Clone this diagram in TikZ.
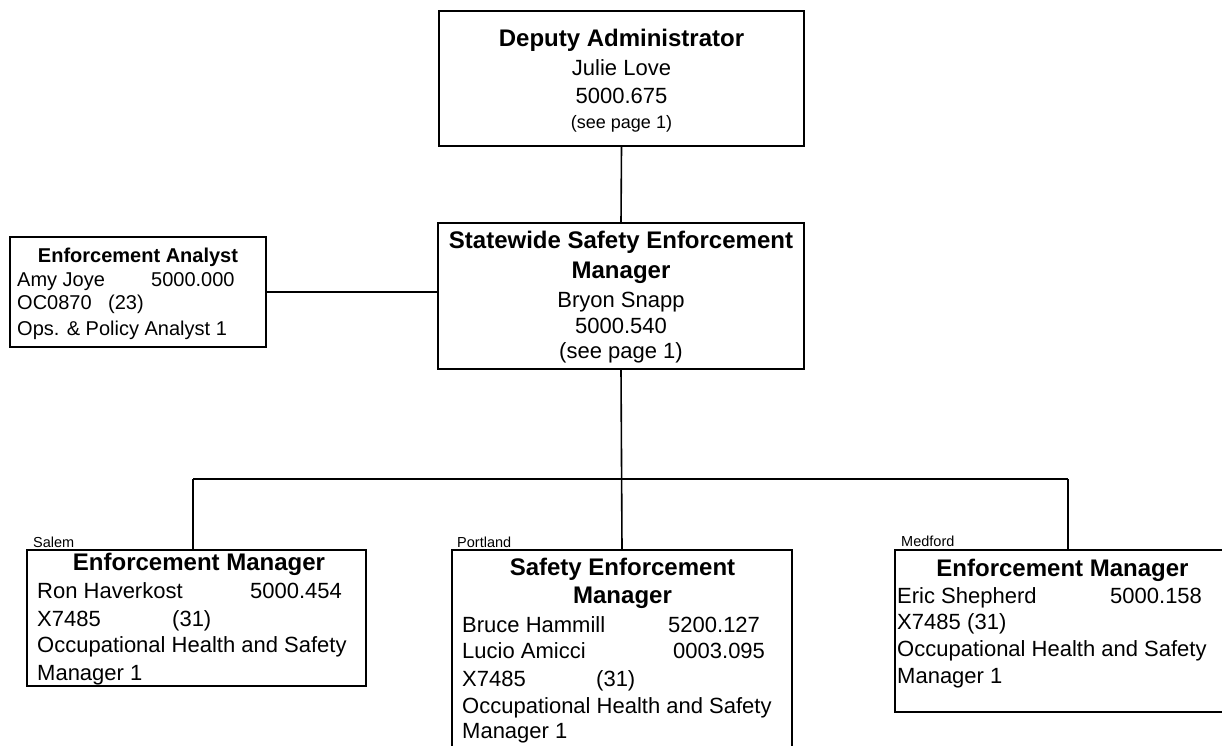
\documentclass[tikz,border=0pt]{standalone}
\usepackage{fontspec}
\setmainfont{Liberation Sans}
\begin{document}
\begin{tikzpicture}[x=1pt,y=-1pt,
  box/.style={draw=black,line width=1.6pt,rectangle,inner sep=0pt,fill=white},
  link/.style={draw=black,line width=1.6pt},
  head/.style={inner sep=0pt,anchor=base,font=\bfseries\fontsize{24}{28}\selectfont},
  headsm/.style={inner sep=0pt,anchor=base,font=\bfseries\fontsize{20}{24}\selectfont},
  ctr/.style={inner sep=0pt,anchor=base,font=\fontsize{22}{26}\selectfont},
  row/.style={inner sep=0pt,anchor=base west,font=\fontsize{22}{26}\selectfont},
  rowsm/.style={inner sep=0pt,anchor=base west,font=\fontsize{20}{24}\selectfont},
  place/.style={inner sep=0pt,anchor=base west,font=\fontsize{14.5}{17}\selectfont}]
\useasboundingbox (0,0) rectangle (1222,745);
\clip (0,0) rectangle (1222,745);
\fill[white] (0,0) rectangle (1222,745);

% boxes
\node[box,minimum width=365pt,minimum height=135pt] (dep) at (621.5,78.5) {};
\node[box,minimum width=366pt,minimum height=146pt] (mgr) at (621,296) {};
\node[box,minimum width=256pt,minimum height=110pt] (ana) at (138,292) {};
\node[box,minimum width=339pt,minimum height=136pt] (sal) at (196.5,618) {};
\node[box,minimum width=340pt,minimum height=230pt] (por) at (622,665) {};
\node[box,minimum width=345pt,minimum height=162pt] (med) at (1067.5,631) {};

% connectors
\coordinate (busL) at (193,479);
\coordinate (busR) at (1068,479);
\draw[link] (dep.south) -- (mgr.north);
\draw[link] (ana.east) -- (ana.east -| mgr.west);
\draw[link] (mgr.south) -- (por.north);
\draw[link] (busL) -- (busR);
\draw[link] (busL) -- (busL |- sal.north);
\draw[link] (busR) -- (busR |- med.north);

% Deputy Administrator
\node[head] (d1) at (621.5,46) {Deputy Administrator};
\node[ctr] (d2) at (621.5,75) {Julie Love};
\node[ctr] (d3) at (621.5,103) {5000.675};
\node[ctr,font=\fontsize{18}{22}\selectfont] (d4) at (621.5,128) {(see page 1)};

% Statewide manager
\node[head] (m1) at (621,248) {Statewide Safety Enforcement};
\node[head] (m2) at (621,278) {Manager};
\node[ctr] (m3) at (621,307) {Bryon Snapp};
\node[ctr] (m4) at (621,333) {5000.540};
\node[ctr] (m5) at (621,358) {(see page 1)};

% Enforcement Analyst
\node[headsm] (a1) at (138,262) {Enforcement Analyst};
\node[rowsm] (a2) at (17,286) {Amy Joye};
\node[rowsm] (a2n) at (151,286) {5000.000};
\node[rowsm] (a3) at (17,309) {OC0870};
\node[rowsm] (a3n) at (108,309) {(23)};
\node[rowsm] (a4) at (17,335) {Ops. \& Policy Analyst 1};

% Salem
\node[place] (sl) at (33,547) {Salem};
\node[head] (s1) at (199,570) {Enforcement Manager};
\node[row] (s2) at (37,598) {Ron Haverkost};
\node[row] (s2n) at (250,598) {5000.454};
\node[row] (s3) at (37,626) {X7485};
\node[row] (s3n) at (172,626) {(31)};
\node[row] (s4) at (37,652) {Occupational Health and Safety};
\node[row] (s5) at (37,680) {Manager 1};

% Portland
\node[place] (pl) at (457,547) {Portland};
\node[head] (p1) at (622.5,575) {Safety Enforcement};
\node[head] (p2) at (622.5,603) {Manager};
\node[row] (p3) at (462,632) {Bruce Hammill};
\node[row] (p3n) at (668,632) {5200.127};
\node[row] (p4) at (462,658) {Lucio Amicci};
\node[row] (p4n) at (673,658) {0003.095};
\node[row] (p5) at (462,686) {X7485};
\node[row] (p5n) at (596,686) {(31)};
\node[row] (p6) at (462,713) {Occupational Health and Safety};
\node[row] (p7) at (462,738) {Manager 1};

% Medford
\node[place] (ml) at (901,546) {Medford};
\node[head] (e1) at (1062.5,576) {Enforcement Manager};
\node[row] (e2) at (897,603) {Eric Shepherd};
\node[row] (e2n) at (1110,603) {5000.158};
\node[row] (e3) at (897,629) {X7485};
\node[row] (e3n) at (967,629) {(31)};
\node[row] (e4) at (897,656) {Occupational Health and Safety};
\node[row] (e5) at (897,683) {Manager 1};
\end{tikzpicture}
\end{document}
